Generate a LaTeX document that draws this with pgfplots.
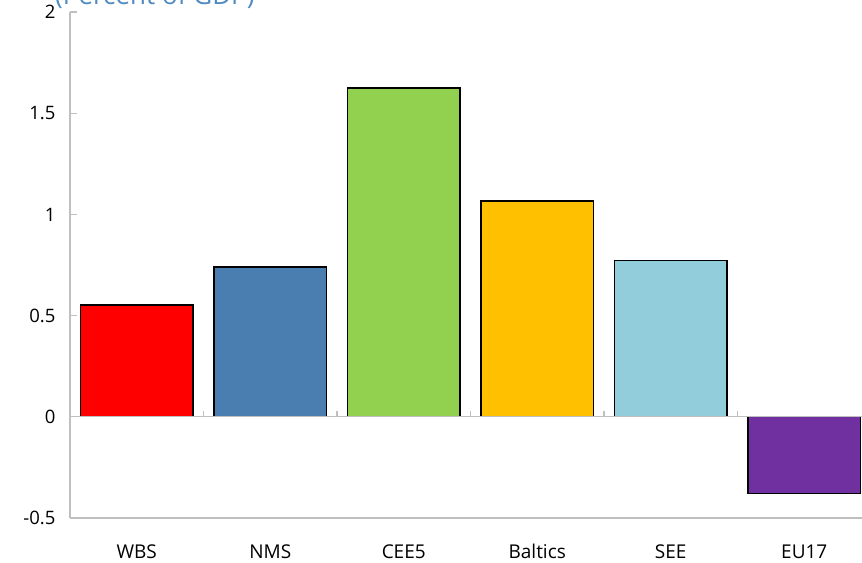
\documentclass[border=0pt]{standalone}
\usepackage{pgfplots}
\pgfplotsset{compat=1.18}
\usepackage{fontspec}
\setmainfont{Open Sans}

\definecolor{cWBS}{HTML}{FF0000}
\definecolor{cNMS}{HTML}{4A7EB0}
\definecolor{cCEE}{HTML}{92D050}
\definecolor{cBal}{HTML}{FFC000}
\definecolor{cSEE}{HTML}{92CDDC}
\definecolor{cEU}{HTML}{7030A0}
\definecolor{axgrey}{HTML}{BFBFBF}
\definecolor{titleblue}{HTML}{4F8AC0}

\begin{document}
\begin{tikzpicture}
\begin{axis}[
  at={(0,0)}, anchor=south west,
  scale only axis,
  width=801bp, height=506bp,
  xmin=-0.5, xmax=5.5,
  ymin=-0.5, ymax=2,
  axis x line=bottom,
  axis y line=left,
  axis line style={axgrey, line width=1.3pt, -},
  xtick={0,1,2,3,4,5},
  xticklabels={WBS,NMS,CEE5,Baltics,SEE,EU17},
  x tick style={draw=none},
  x tick label style={font=\fontsize{19bp}{21bp}\selectfont, yshift=-16bp},
  ytick={-0.5,0,0.5,1,1.5,2},
  yticklabels={-0.5,0,0.5,1,1.5,2},
  y tick style={axgrey, line width=1.3pt},
  tick align=inside,
  major tick length=7bp,
  y tick label style={font=\fontsize{18.5bp}{21bp}\selectfont, xshift=-11bp},
  ybar, bar width=0.84, bar shift=0pt,
  clip=false,
]
\addplot[fill=cWBS, draw=black, line width=1.4pt] coordinates {(0,0.553)};
\addplot[fill=cNMS, draw=black, line width=1.4pt] coordinates {(1,0.741)};
\addplot[fill=cCEE, draw=black, line width=1.4pt] coordinates {(2,1.625)};
\addplot[fill=cBal, draw=black, line width=1.4pt] coordinates {(3,1.067)};
\addplot[fill=cSEE, draw=black, line width=1.4pt] coordinates {(4,0.771)};
\addplot[fill=cEU, draw=black, line width=1.4pt] coordinates {(5,-0.38)};
% horizontal axis through zero with category separators
\draw[axgrey, line width=1.3pt] (axis cs:-0.5,0) -- (axis cs:5.5,0);
\pgfplotsinvokeforeach{0.5,1.5,2.5,3.5,4.5}{
  \draw[axgrey, line width=1.3pt] (axis cs:#1,0) -- ([yshift=6bp]axis cs:#1,0);
}
\end{axis}
\node[anchor=base west, text=titleblue, font=\fontsize{26bp}{28bp}\selectfont, inner sep=0pt]
  at (-15bp,513bp) {(Percent of GDP)};
\pgfresetboundingbox
\path (-70bp,-45bp) rectangle (792bp,518bp);
\end{tikzpicture}
\end{document}
